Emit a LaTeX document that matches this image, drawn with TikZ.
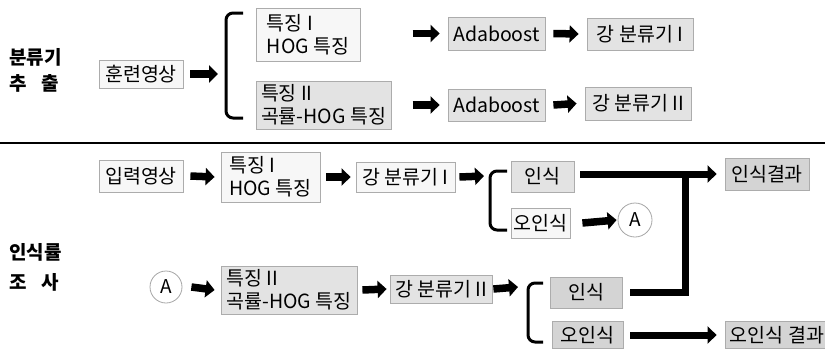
\documentclass[tikz,border=0pt]{standalone}
\usepackage{fontspec}
\setmainfont{Noto Sans CJK KR}
\usetikzlibrary{arrows.meta}
\begin{document}
\begin{tikzpicture}[x=1pt,y=-1pt,
  box/.style={draw=gray!65, line width=0.8pt, inner sep=0pt, font=\fontsize{19.5}{23}\selectfont, align=left},
  wbox/.style={box, fill=gray!6},
  gbox/.style={box, fill=gray!22},
  dbox/.style={box, fill=gray!34},
  circ/.style={draw=gray!70, line width=0.8pt, circle, inner sep=0pt, minimum size=34pt, font=\fontsize{19}{20}\selectfont},
  bigarrow/.style={line width=7.5pt, -{Triangle[length=9pt,width=17pt]}},
  thickline/.style={line width=7pt},
  brk/.style={line width=3pt, rounded corners=7pt},
  lbl/.style={font=\fontsize{19}{20}\selectfont\bfseries, inner sep=0pt, anchor=west}
]
\useasboundingbox (0,0) rectangle (825,349);
\fill[white] (0,0) rectangle (825,349);

% left labels
\node[lbl] (l1) at (9,57) {분류기};
\node[lbl] (l2) at (9,83) {\makebox[50pt][s]{추 출}};
\node[lbl] (l3) at (9,252) {인식률};
\node[lbl] (l4) at (9,282) {\makebox[50pt][s]{조 사}};

% separator
\coordinate (sepL) at (0,143);
\coordinate (sepR) at (825,143);
\draw[line width=1.6pt] (sepL) -- (sepR);

% ---------- top part ----------
\node[wbox, minimum width=84pt, minimum height=28pt] (train) at (141,74) {훈련영상};
\node[wbox, minimum width=104pt, minimum height=53pt] (f1) at (308,34.5) {특징 I\\HOG 특징};
\node[gbox, minimum width=135pt, minimum height=48pt] (f2) at (323.5,105) {특징 II\\곡률-HOG 특징};
\node[gbox, minimum width=97pt, minimum height=33pt] (ada1) at (496.5,33.5) {Adaboost};
\node[gbox, minimum width=97pt, minimum height=32pt] (ada2) at (496.5,105) {Adaboost};
\node[gbox, minimum width=106pt, minimum height=32pt] (sc1) at (640,34) {강 분류기 I};
\node[gbox, minimum width=106pt, minimum height=33pt] (sc2) at (638,103.5) {강 분류기 II};

\coordinate (b1) at (226,74);
\draw[brk] (243,13) -- (226,13) -- (226,118) -- (243,118);
\draw[bigarrow] ([xshift=7pt]train.east) -- ([xshift=-8pt]b1);
\draw[bigarrow] ([xshift=-35pt]ada1.west) -- ([xshift=-8pt]ada1.west);
\draw[bigarrow] ([xshift=-35pt]ada2.west) -- ([xshift=-8pt]ada2.west);
\draw[bigarrow] ([xshift=8pt]ada1.east) -- ([xshift=-8pt]sc1.west);
\draw[bigarrow] ([xshift=8pt]ada2.east) -- ([xshift=-8pt]sc2.west);

% ---------- bottom part ----------
\node[wbox, minimum width=84pt, minimum height=32pt] (inp) at (141,176) {입력영상};
\node[wbox, minimum width=99pt, minimum height=50pt] (f1b) at (270.5,177) {특징 I\\HOG 특징};
\node[wbox, minimum width=99pt, minimum height=30pt] (sc1b) at (405.5,177) {강 분류기 I};
\node[gbox, minimum width=63pt, minimum height=31pt] (rec1) at (542.5,176.5) {인식};
\node[wbox, minimum width=59pt, minimum height=30pt] (mis1) at (540.5,223) {오인식};
\node[circ] (A1) at (635,220) {A};
\node[dbox, minimum width=84pt, minimum height=32pt] (res1) at (767,174) {인식결과};

\node[circ, minimum size=32pt] (A2) at (166,287) {A};
\node[gbox, minimum width=136pt, minimum height=48pt] (f2b) at (289,290) {특징 II\\곡률-HOG 특징};
\node[gbox, minimum width=102pt, minimum height=28pt] (sc2b) at (441,289) {강 분류기 II};
\node[dbox, minimum width=72pt, minimum height=31pt] (rec2) at (586,292.5) {인식};
\node[dbox, minimum width=71pt, minimum height=27pt] (mis2) at (587.5,335) {오인식};
\node[dbox, minimum width=104pt, minimum height=27pt] (res2) at (777,335) {오인식 결과};

\draw[bigarrow] ([xshift=7pt]inp.east) -- ([xshift=-6pt]f1b.west);
\draw[bigarrow] ([xshift=6pt]f1b.east) -- ([xshift=-5pt]sc1b.west);
\coordinate (b2) at (490,176);
\draw[brk] (507,171) -- (490,171) -- (490,230) -- (507,230);
\draw[bigarrow] ([xshift=4pt]sc1b.east) -- ([xshift=-6pt]b2);
\draw[bigarrow] ([xshift=12pt]mis1.east) -- ([xshift=-1pt]A1.west);

\coordinate (J) at (685,174);
\draw[thickline, -{Triangle[length=9pt,width=17pt]}] ([xshift=6pt]rec1.east |- res1.west) -- ([xshift=-8pt]res1.west);
\draw[thickline] ([xshift=8pt]rec2.east) -| ([yshift=-3pt]J);

\draw[bigarrow] ([xshift=9pt]A2.east) -- ([xshift=-6pt]f2b.west);
\draw[bigarrow] ([xshift=5pt]f2b.east) -- ([xshift=-3pt]sc2b.west);
\coordinate (b3) at (528,287);
\draw[brk] (543,283) -- (528,283) -- (528,342) -- (543,342);
\draw[bigarrow] ([xshift=1pt]sc2b.east) -- ([xshift=-10pt]b3);
\draw[thickline, -{Triangle[length=9pt,width=17pt]}] ([xshift=7pt]mis2.east) -- ([xshift=-8pt]res2.west);
\end{tikzpicture}
\end{document}
